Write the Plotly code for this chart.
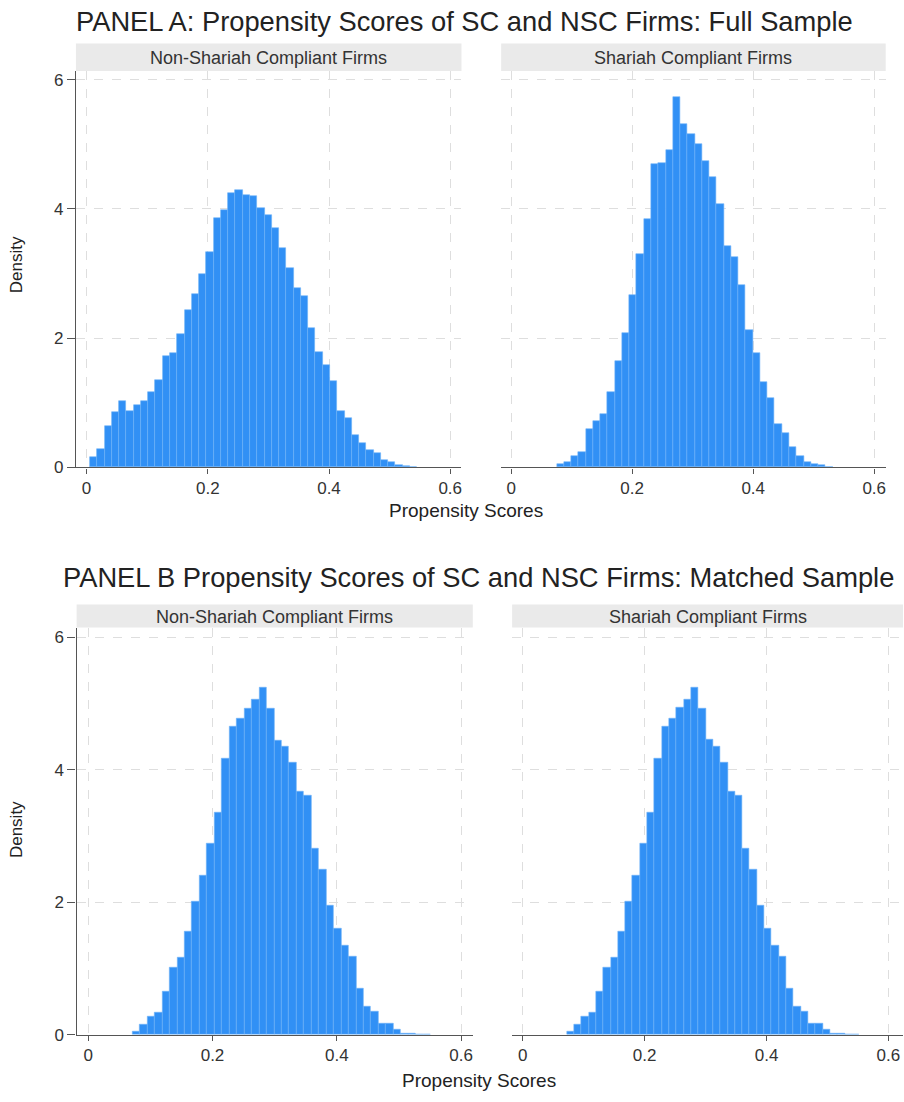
import plotly.graph_objects as go

# ---------------- data (density per bin) ----------------
bin_width = 0.012

a_nsc_start = 0.0055
a_nsc_density = [0.16, 0.29, 0.64, 0.86, 1.02, 0.87, 0.97, 1.02, 1.16, 1.35,
                 1.72, 1.77, 2.06, 2.44, 2.68, 2.99, 3.34, 3.86, 3.98, 4.24,
                 4.30, 4.22, 4.20, 4.02, 3.91, 3.71, 3.40, 3.09, 2.77, 2.65,
                 2.16, 1.79, 1.58, 1.34, 0.87, 0.76, 0.50, 0.37, 0.27, 0.22,
                 0.12, 0.09, 0.04, 0.02, 0.005]

a_sc_start = 0.0754
a_sc_density = [0.05, 0.09, 0.18, 0.24, 0.60, 0.72, 0.82, 1.17, 1.65, 2.08,
                2.67, 3.30, 3.84, 4.70, 4.71, 4.91, 5.74, 5.31, 5.16, 5.00,
                4.74, 4.50, 4.07, 3.43, 3.26, 2.82, 2.12, 1.77, 1.32, 1.07,
                0.67, 0.53, 0.31, 0.18, 0.08, 0.05, 0.03, 0.01]

b_nsc_start = 0.0712
b_nsc_density = [0.055, 0.155, 0.28, 0.34, 0.655, 1.01, 1.17, 1.56, 2.01, 2.40,
                 2.89, 3.35, 4.17, 4.65, 4.78, 4.93, 5.07, 5.24, 4.93, 4.45,
                 4.35, 4.11, 3.68, 3.61, 2.82, 2.50, 1.95, 1.61, 1.35, 1.18,
                 0.70, 0.42, 0.355, 0.165, 0.165, 0.075, 0.025, 0.015, 0.01, 0.005]

b_sc_start = 0.0722
b_sc_density = [0.055, 0.155, 0.28, 0.34, 0.655, 1.02, 1.17, 1.56, 2.01, 2.40,
                2.89, 3.36, 4.17, 4.65, 4.78, 4.94, 5.07, 5.24, 4.93, 4.46,
                4.35, 4.11, 3.68, 3.61, 2.82, 2.49, 1.95, 1.61, 1.35, 1.18,
                0.70, 0.42, 0.355, 0.165, 0.165, 0.075, 0.025, 0.015, 0.01, 0.005]

x_ticks = [0, 0.2, 0.4, 0.6]
x_tick_labels = ["0", "0.2", "0.4", "0.6"]
y_ticks = [0, 2, 4, 6]
y_tick_labels = ["0", "2", "4", "6"]

panel_titles = ["PANEL A: Propensity Scores of SC and NSC Firms: Full Sample",
                "PANEL B Propensity Scores of SC and NSC Firms: Matched Sample"]
strip_labels = ["Non-Shariah Compliant Firms", "Shariah Compliant Firms"]
x_title = "Propensity Scores"
y_title = "Density"

# ---------------- layout helpers ----------------
W, H = 904, 1102
FONT = "Liberation Sans, Arial, Helvetica, sans-serif"
BAR = "#3190f5"
BAR_EDGE = "#6db2f8"
AXIS = "#555555"
GRID = "#dedede"
STRIP = "#eaeaea"
TXT = "#222222"


def px(x):
    return x / W


def py(y):
    return 1 - y / H


# panel geometry in pixels
panels = [
    dict(x0=76.0, x1=462.0, yt=71.7, yb=471.7, xr=[-0.0176, 0.6186], yr=[0, 6.135],
         start=a_nsc_start, dens=a_nsc_density, left=True),
    dict(x0=501.7, x1=886.7, yt=71.7, yb=471.7, xr=[-0.0165, 0.619], yr=[0, 6.135],
         start=a_sc_start, dens=a_sc_density, left=False),
    dict(x0=76.7, x1=473.3, yt=633.3, yb=1044.3, xr=[-0.0186, 0.6188], yr=[0, 6.15],
         start=b_nsc_start, dens=b_nsc_density, left=True),
    dict(x0=512.7, x1=904.0, yt=633.3, yb=1044.3, xr=[-0.0175, 0.624], yr=[0, 6.15],
         start=b_sc_start, dens=b_sc_density, left=False),
]

fig = go.Figure()
layout = {}
shapes = []
annotations = []

for i, p in enumerate(panels):
    n = "" if i == 0 else str(i + 1)
    centers = [p["start"] + (k + 0.5) * bin_width for k in range(len(p["dens"]))]
    fig.add_trace(go.Bar(
        x=centers, y=p["dens"], width=bin_width,
        marker=dict(color=BAR, line=dict(color=BAR_EDGE, width=0.6)),
        xaxis="x" + n, yaxis="y" + n, showlegend=False, hoverinfo="x+y"))

    layout["xaxis" + n] = dict(
        domain=[px(p["x0"]), px(p["x1"])], anchor="y" + n, range=p["xr"],
        tickvals=x_ticks, ticktext=x_tick_labels,
        showgrid=True, gridcolor=GRID, griddash="dash", gridwidth=1,
        zeroline=False, showline=True, linecolor=AXIS, linewidth=1.3,
        ticks="outside", ticklen=5, tickcolor=AXIS, tickwidth=1,
        ticklabeloverflow="allow",
        tickfont=dict(family=FONT, size=17, color="#333333"), fixedrange=True)
    layout["yaxis" + n] = dict(
        domain=[py(p["yb"]), py(p["yt"])], anchor="x" + n, range=p["yr"],
        tickvals=y_ticks, ticktext=y_tick_labels,
        showgrid=True, gridcolor=GRID, griddash="dash", gridwidth=1,
        zeroline=False, showline=p["left"], linecolor=AXIS, linewidth=1.3,
        ticks="outside" if p["left"] else "", ticklen=8, tickcolor=AXIS, tickwidth=1,
        showticklabels=p["left"],
        tickfont=dict(family=FONT, size=17, color="#333333"), fixedrange=True)

# strips
strip_geo = [
    (76.0, 462.0, 44.0, 71.7, strip_labels[0]),
    (501.7, 886.7, 44.0, 71.7, strip_labels[1]),
    (76.7, 473.3, 610.0, 633.3, strip_labels[0]),
    (512.7, 904.0, 610.0, 633.3, strip_labels[1]),
]
for x0, x1, y0, y1, lab in strip_geo:
    shapes.append(dict(type="rect", xref="paper", yref="paper",
                       x0=px(x0), x1=px(x1), y0=py(y1), y1=py(y0),
                       fillcolor=STRIP, line=dict(width=0), layer="below"))
    annotations.append(dict(text=lab, xref="paper", yref="paper",
                            x=px((x0 + x1) / 2), y=py((y0 + y1) / 2 + 0.5),
                            xanchor="center", yanchor="middle", showarrow=False,
                            font=dict(family=FONT, size=18, color="#333333")))

# panel titles
annotations.append(dict(text=panel_titles[0], xref="paper", yref="paper",
                        x=px(465), y=py(22), xanchor="center", yanchor="middle",
                        showarrow=False, font=dict(family=FONT, size=27.3, color=TXT)))
annotations.append(dict(text=panel_titles[1], xref="paper", yref="paper",
                        x=px(479), y=py(583), xanchor="center", yanchor="middle",
                        showarrow=False, font=dict(family=FONT, size=27.3, color=TXT)))

# axis titles
for xc, yc in [(467, 515), (479.5, 1090)]:
    annotations.append(dict(text=x_title, xref="paper", yref="paper",
                            x=px(xc), y=py(yc), xanchor="center", yanchor="middle",
                            showarrow=False, font=dict(family=FONT, size=19, color=TXT)))
for yc in [267, 837]:
    annotations.append(dict(text=y_title, xref="paper", yref="paper", textangle=-90,
                            x=px(16.7), y=py(yc), xanchor="center", yanchor="middle",
                            showarrow=False, font=dict(family=FONT, size=17, color=TXT)))

fig.update_layout(
    width=W, height=H, margin=dict(l=0, r=0, t=0, b=0),
    paper_bgcolor="white", plot_bgcolor="white",
    bargap=0, shapes=shapes, annotations=annotations,
    font=dict(family=FONT), **layout)

fig.write_html("out.html", config={"displayModeBar": False},
               post_script="document.body.style.margin='0';"
                           "document.body.style.overflow='hidden';")
